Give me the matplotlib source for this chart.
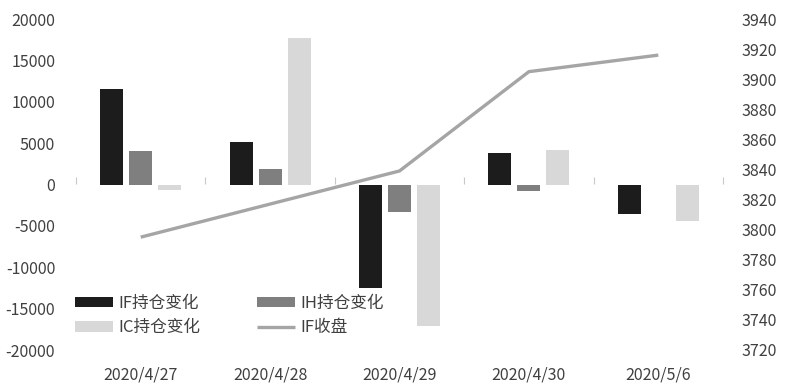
import matplotlib
matplotlib.use("Agg")
import matplotlib.pyplot as plt
import numpy as np

plt.rcParams['font.family'] = ['Noto Sans CJK SC', 'DejaVu Sans']

dates = ["2020/4/27", "2020/4/28", "2020/4/29", "2020/4/30", "2020/5/6"]
if_oi = [11500, 5100, -12550, 3850, -3550]
ih_oi = [4000, 1850, -3350, -800, 0]
ic_oi = [-650, 17700, -17100, 4200, -4400]
if_close = [3795, 3817, 3839, 3905, 3916]

series_names = ["IF持仓变化", "IH持仓变化", "IC持仓变化", "IF收盘"]
left_ticks = [-20000, -15000, -10000, -5000, 0, 5000, 10000, 15000, 20000]
right_ticks = [3720, 3740, 3760, 3780, 3800, 3820, 3840, 3860, 3880, 3900, 3920, 3940]

c_if = "#1c1c1c"
c_ih = "#7f7f7f"
c_ic = "#d8d8d8"
c_line = "#a5a5a5"
txt = "#404040"
fs = 11.5
fs_leg = 12

fig = plt.figure(figsize=(7.89, 3.92), dpi=100)
ax = fig.add_axes([76/789, 1-350/392, (723-76)/789, (350-19)/392])
ax2 = ax.twinx()

x = np.arange(len(dates))
w = 0.178
off = 0.224
b1 = ax.bar(x - off, if_oi, w, color=c_if, zorder=2, label=series_names[0])
b2 = ax.bar(x, ih_oi, w, color=c_ih, zorder=2, label=series_names[1])
b3 = ax.bar(x + off, ic_oi, w, color=c_ic, zorder=2, label=series_names[2])
ln, = ax2.plot(x, if_close, color=c_line, lw=2.4, solid_capstyle='butt', label=series_names[3])

ax.set_xlim(-0.5, len(dates) - 0.5)
ax.set_ylim(-20000, 20000)
ax2.set_ylim(3720, 3940)
ax.set_yticks(left_ticks)
ax.set_yticklabels([str(v) for v in left_ticks])
ax2.set_yticks(right_ticks)
ax2.set_yticklabels([str(v) for v in right_ticks])

ax.set_xticks(x)
ax.set_xticklabels(dates)
ax.tick_params(axis='x', length=0, pad=12, labelsize=fs, labelcolor=txt)
ax.tick_params(axis='y', length=0, pad=15, labelsize=fs, labelcolor=txt)
ax2.tick_params(axis='y', length=0, pad=13, labelsize=fs, labelcolor=txt)

for a in (ax, ax2):
    for s in a.spines.values():
        s.set_visible(False)

# zero axis line with category boundary ticks
sec = ax.secondary_xaxis(0.5)
sec.set_xticks(np.arange(len(dates) + 1) - 0.5)
sec.set_xticklabels([])
sec.tick_params(axis='x', length=5, width=0.8, color="#c8c8c8", direction='out')
sec.spines['bottom'].set_color("#c8c8c8")
sec.spines['bottom'].set_linewidth(0.9)
for k in ('top', 'left', 'right'):
    sec.spines[k].set_visible(False)

# order so that rows read IF, IH / IC, IF收盘 (legend fills column-wise)
handles = [b1, b3, b2, ln]
labels = [series_names[0], series_names[2], series_names[1], series_names[3]]
leg = fig.legend(handles, labels, ncol=2, loc='center left',
                 bbox_to_anchor=(75/789, 1-315.5/392), bbox_transform=fig.transFigure,
                 frameon=False, fontsize=fs_leg, borderpad=0, borderaxespad=0,
                 handlelength=2.3, handleheight=0.6, handletextpad=0.3,
                 columnspacing=3.4, labelspacing=0.45, labelcolor=txt)

fig.savefig("out.png", dpi=100, facecolor="white")
